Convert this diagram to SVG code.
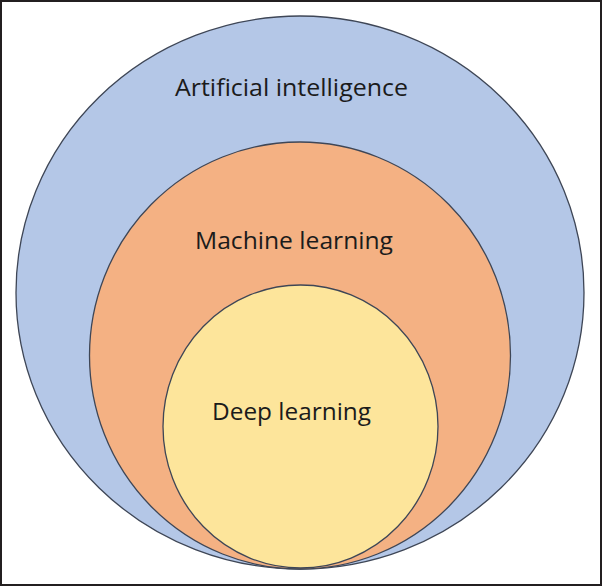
<svg xmlns="http://www.w3.org/2000/svg" width="602" height="586" viewBox="0 0 602 586">
<style>
.c{stroke:#3e4656;stroke-width:1.3}
.t{font-family:"Open Sans","Liberation Sans",sans-serif;font-size:24px;fill:#1b1b1b}
</style>
<rect x="0" y="0" width="602" height="586" fill="#ffffff"/>
<rect x="1" y="1" width="600" height="584" fill="none" stroke="#231f20" stroke-width="2"/>
<g id="ai">
<ellipse class="c" cx="300" cy="292.5" rx="284" ry="276.5" fill="#b4c7e7"/>
<text class="t" x="175" y="96" textLength="233" lengthAdjust="spacingAndGlyphs">Artificial intelligence</text>
</g>
<g id="ml">
<ellipse class="c" cx="300" cy="355.5" rx="210.5" ry="213.5" fill="#f4b183"/>
<text class="t" x="195" y="249" textLength="198" lengthAdjust="spacingAndGlyphs">Machine learning</text>
</g>
<g id="dl">
<ellipse class="c" cx="300.5" cy="426.5" rx="137.5" ry="141.5" fill="#fde59b"/>
<text class="t" x="212" y="420" textLength="159" lengthAdjust="spacingAndGlyphs">Deep learning</text>
</g>
<g id="connectors"></g>
</svg>
